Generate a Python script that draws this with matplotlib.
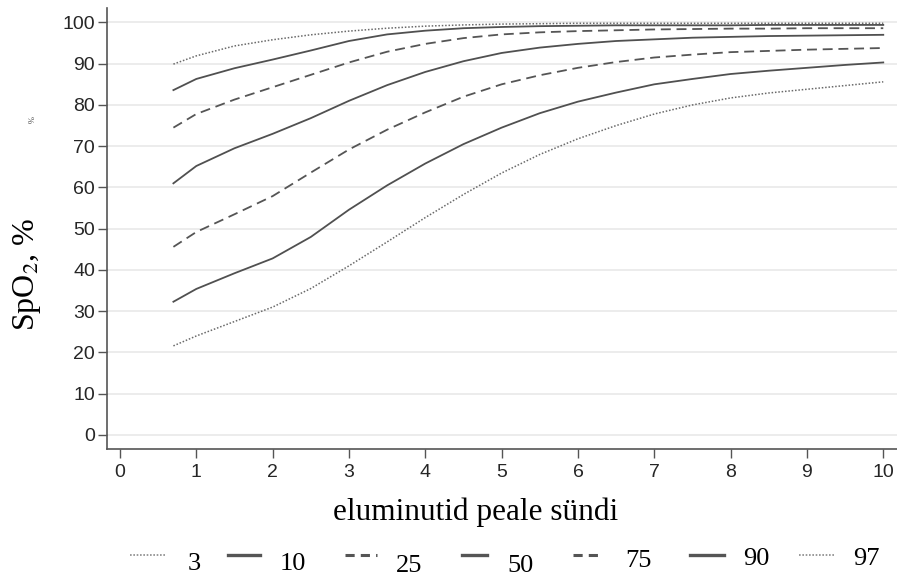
"""SpO2 percentile curves by minutes after birth."""

import matplotlib
matplotlib.use("Agg")
import matplotlib.pyplot as plt
from matplotlib.lines import Line2D

plt.rcParams["mathtext.fontset"] = "stix"

# minutes after birth
minutes = [0.7, 1, 1.5, 2, 2.5, 3, 3.5, 4, 4.5, 5, 5.5, 6, 6.5, 7, 7.5, 8, 8.5, 9, 9.5, 10]

p3 = [21.6, 24.0, 27.5, 31.0, 35.5, 41.0, 46.8, 52.7, 58.3, 63.5,
      68.0, 71.8, 75.0, 77.8, 80.0, 81.7, 82.9, 83.8, 84.7, 85.6]
p10 = [32.3, 35.4, 39.2, 42.8, 48.0, 54.6, 60.5, 65.8, 70.5, 74.5,
       78.0, 80.8, 83.0, 85.0, 86.3, 87.5, 88.3, 89.0, 89.7, 90.3]
p25 = [45.6, 49.2, 53.5, 57.9, 63.6, 69.2, 74.0, 78.2, 82.0, 85.0,
       87.2, 89.0, 90.4, 91.5, 92.2, 92.8, 93.1, 93.4, 93.6, 93.8]
p50 = [61.0, 65.2, 69.5, 73.0, 76.8, 81.0, 84.8, 88.0, 90.6, 92.6,
       93.9, 94.8, 95.5, 95.9, 96.3, 96.5, 96.7, 96.8, 96.9, 97.0]
p75 = [74.5, 77.8, 81.3, 84.3, 87.3, 90.3, 92.9, 94.8, 96.2, 97.1,
       97.6, 97.9, 98.1, 98.3, 98.4, 98.5, 98.5, 98.6, 98.6, 98.6]
p90 = [83.6, 86.3, 88.9, 91.0, 93.2, 95.5, 97.1, 98.0, 98.6, 98.9,
       99.1, 99.2, 99.3, 99.3, 99.3, 99.3, 99.4, 99.4, 99.4, 99.4]
p97 = [89.9, 91.9, 94.3, 95.8, 97.0, 97.9, 98.6, 99.1, 99.4, 99.6,
       99.7, 99.8, 99.8, 99.8, 99.8, 99.8, 99.8, 99.8, 99.8, 99.8]

labels = ["3", "10", "25", "50", "75", "90", "97"]
series = [p3, p10, p25, p50, p75, p90, p97]

DOT = {"color": "#6a6a6a", "linewidth": 1.1, "dashes": (1.0, 1.2)}
SOLID = {"color": "#505050", "linewidth": 1.3}
DASH = {"color": "#555555", "linewidth": 1.3, "dashes": (5.5, 3.2)}
styles = [DOT, SOLID, DASH, SOLID, DASH, SOLID, DOT]

SERIF = ["Liberation Serif", "DejaVu Serif"]
SANS = ["Liberation Sans", "DejaVu Sans"]
W, H = 897, 576

fig = plt.figure(figsize=(W / 100, H / 100), dpi=100)
ax = fig.add_axes([107 / W, 127 / H, 790 / W, 441 / H])

for vals, st in zip(series, styles):
    ax.plot(minutes, vals, **st)

ax.set_xlim(-0.17, 10.18)
ax.set_ylim(-3.4, 103.5)
ax.set_xticks(range(0, 11))
ax.set_yticks(range(0, 101, 10))
ax.yaxis.grid(True, color="#ebebeb", linewidth=1.3)
ax.set_axisbelow(True)

for side in ("top", "right"):
    ax.spines[side].set_visible(False)
for side in ("left", "bottom"):
    ax.spines[side].set_color("#555555")
    ax.spines[side].set_linewidth(1.2)

ax.tick_params(length=6.5, width=1.0, color="#555555", labelcolor="#262626",
               labelsize=14)
ax.tick_params(axis="x", pad=4)
ax.tick_params(axis="y", pad=2)
for lab in ax.get_xticklabels() + ax.get_yticklabels():
    lab.set_family(SANS)

# axis titles
fig.text(476 / W, 1 - 512 / H, "eluminutid peale sündi", family=SERIF,
         fontsize=22.5, ha="center", va="center")
fig.text(27 / W, 1 - 274 / H, "SpO$_2$, %", family=SERIF, fontsize=23,
         rotation=90, ha="center", va="center")
fig.text(33 / W, 1 - 120 / H, "%", family=SERIF, fontsize=6, rotation=90,
         ha="center", va="center", color="#444444")

# legend row along the bottom
handle_x = [(130, 166), (228, 260), (345, 377), (462, 487), (573, 600), (690, 724), (799, 835)]
label_pos = [(194, 564), (293, 564), (409, 566), (520, 566), (638, 561), (756, 559), (866, 559)]
leg_styles = [
    {"color": "#8a8a8a", "linewidth": 1.2, "dashes": (1.0, 1.0)},
    {"color": "#555555", "linewidth": 2.4},
    {"color": "#555555", "linewidth": 2.2, "dashes": (3.0, 2.0)},
    {"color": "#555555", "linewidth": 2.4},
    {"color": "#555555", "linewidth": 2.2, "dashes": (3.0, 2.0)},
    {"color": "#555555", "linewidth": 2.4},
    {"color": "#8a8a8a", "linewidth": 1.2, "dashes": (1.0, 1.0)},
]
for (x0, x1), (lx, ly), lab, st in zip(handle_x, label_pos, labels, leg_styles):
    fy = 1 - 555 / H
    fig.add_artist(Line2D([x0 / W, x1 / W], [fy, fy], transform=fig.transFigure, **st))
    fig.text(lx / W, 1 - ly / H, lab, family=SERIF, fontsize=19, ha="center", va="center")

fig.savefig("out.png", dpi=100)
